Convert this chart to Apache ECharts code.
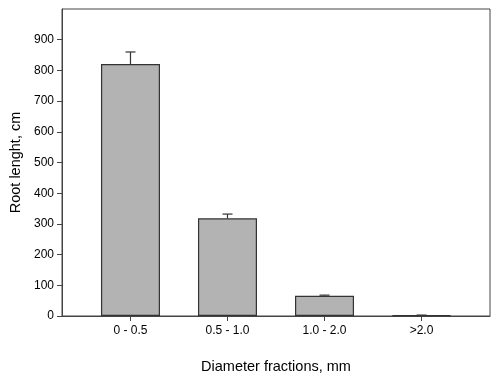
<!DOCTYPE html>
<html><head><meta charset="utf-8">
<script src="https://cdn.jsdelivr.net/npm/echarts@6/dist/echarts.min.js"></script>
<style>html,body{margin:0;padding:0;background:#fff}#c{width:500px;height:382px}</style>
</head><body><div id="c"></div>
<script>
const categories = ['0 - 0.5', '0.5 - 1.0', '1.0 - 2.0', '>2.0'];
const rootLength = [821, 318, 66, 2];
const errorUpper = [860, 332, 68, 3];
const yTicks = [0, 100, 200, 300, 400, 500, 600, 700, 800, 900];

const chart = echarts.init(document.getElementById('c'), null, {renderer: 'canvas'});
const font = 'Liberation Sans, Arial, sans-serif';
const xIdx = categories.map((_, i) => i);
chart.setOption({
  animation: false,
  grid: {left: 62, right: 10, top: 9, bottom: 66, show: true, borderColor: '#444', borderWidth: 1, backgroundColor: '#fff'},
  xAxis: {
    type: 'value', min: -0.706, max: 3.706,
    splitLine: {show: false},
    axisLine: {show: true, onZero: false, lineStyle: {color: '#444'}},
    axisTick: {show: true, length: 5, customValues: xIdx, lineStyle: {color: '#444'}},
    axisLabel: {customValues: xIdx, color: '#000', fontFamily: font, fontSize: 12, margin: 9,
      formatter: v => categories[Math.round(v)]},
    name: 'Diameter fractions, mm', nameLocation: 'middle', nameGap: 43,
    nameTextStyle: {color: '#000', fontFamily: font, fontSize: 14.5}
  },
  yAxis: {
    type: 'value', min: 0, max: 1000,
    splitLine: {show: false},
    axisLine: {show: true, onZero: false, lineStyle: {color: '#444'}},
    axisTick: {show: true, length: 5, customValues: yTicks, lineStyle: {color: '#444'}},
    axisLabel: {customValues: yTicks, color: '#000', fontFamily: font, fontSize: 12, margin: 8},
    name: 'Root lenght, cm', nameLocation: 'middle', nameGap: 35,
    nameTextStyle: {color: '#000', fontFamily: font, fontSize: 14.5}
  },
  series: [
    {
      type: 'bar', barWidth: 59,
      data: rootLength.map((v, i) => [i, v]),
      itemStyle: {color: '#b3b3b3', borderColor: '#333', borderWidth: 1.2}
    },
    {
      type: 'custom', z: 1,
      data: errorUpper.map((v, i) => [i, rootLength[i], v]),
      renderItem: (params, api) => {
        const x = api.value(0);
        const lo = api.coord([x, api.value(1)]);
        const hi = api.coord([x, api.value(2)]);
        const hw = 5;
        return {type: 'group', children: [
          {type: 'line', shape: {x1: lo[0], y1: lo[1], x2: hi[0], y2: hi[1]}, style: {stroke: '#333', lineWidth: 1.2}},
          {type: 'line', shape: {x1: hi[0] - hw, y1: hi[1], x2: hi[0] + hw, y2: hi[1]}, style: {stroke: '#333', lineWidth: 1.2}}
        ]};
      }
    }
  ]
});
</script></body></html>
